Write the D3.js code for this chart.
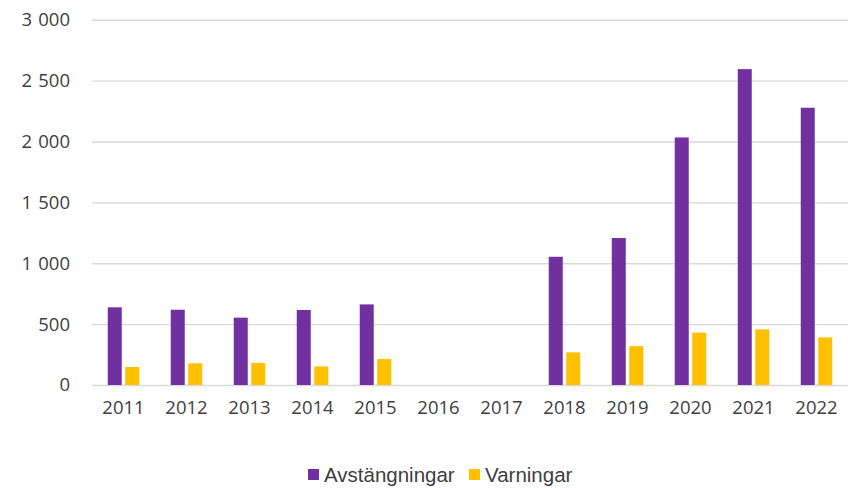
<!DOCTYPE html>
<html>
<head>
<meta charset="utf-8">
<script src="https://cdn.jsdelivr.net/npm/d3@7"></script>
<style>
body{margin:0;background:#fff;}
.tick text{font-family:"Open Sans",sans-serif;font-size:18.5px;fill:#404040;}
.legend text{font-family:"Liberation Sans",Arial,sans-serif;font-size:20.5px;fill:#404040;}
</style>
</head>
<body>
<div id="chart"></div>
<script>
let years=["2011","2012","2013","2014","2015","2016","2017","2018","2019","2020","2021","2022"];
let avstangningar=[638,618,553,616,662,null,null,1053,1207,2033,2594,2277];
let varningar=[148,178,181,153,213,null,null,268,320,430,457,391];
let seriesNames=["Avstängningar","Varningar"];
let colors=["#7030A0","#FFC000"];
let yTicks=[0,500,1000,1500,2000,2500,3000];

let width=848, height=488;
let margin={top:19.7,right:0,bottom:103,left:92};

let svg=d3.select("#chart").append("svg")
.attr("width",width)
.attr("height",height);

let x=d3.scaleBand().domain(years).range([margin.left,width-margin.right]).padding(0);
let xs=d3.scaleBand().domain(seriesNames).range([0,x.bandwidth()]).paddingInner(0.2).paddingOuter(0.9);
let y=d3.scaleLinear().domain([0,3000]).range([height-margin.bottom,margin.top]);

// thousands separated by a space, like the original
let fmt=function(d){return d3.format(",")(d).replace(/,/g,"\u2004");};

// gridlines + y labels
let yAxis=d3.axisLeft(y).tickValues(yTicks).tickFormat(fmt)
.tickSize(-(width-margin.left-margin.right)).tickPadding(22);
let gy=svg.append("g").attr("transform","translate("+margin.left+",0)").call(yAxis);
gy.select(".domain").remove();
gy.selectAll(".tick line").attr("stroke","#d9d9d9").attr("stroke-width",1.4);

// bars
let rows=years.map(function(yr,i){return {year:yr,values:[avstangningar[i],varningar[i]]};});
let groups=svg.selectAll("g.year").data(rows).enter().append("g")
.attr("class","year")
.attr("transform",function(d){return "translate("+x(d.year)+",0)";});
groups.selectAll("rect")
.data(function(d){return d.values.map(function(v,j){return {name:seriesNames[j],value:v,c:colors[j]};}).filter(function(e){return e.value!=null;});})
.enter().append("rect")
.attr("x",function(d){return xs(d.name);})
.attr("width",xs.bandwidth())
.attr("y",function(d){return y(d.value);})
.attr("height",function(d){return y(0)-y(d.value);})
.attr("fill",function(d){return d.c;});

// x labels
let xAxis=d3.axisBottom(x).tickSize(0).tickPadding(16);
let gx=svg.append("g").attr("transform","translate(0,"+y(0)+")").call(xAxis);
gx.select(".domain").remove();

// legend
let legend=svg.append("g").attr("class","legend");
let lx=[308,469];
seriesNames.forEach(function(n,i){
  legend.append("rect").attr("x",lx[i]).attr("y",469).attr("width",11).attr("height",11).attr("fill",colors[i]);
  legend.append("text").attr("x",lx[i]+16).attr("y",481.5).text(n);
});
</script>
</body>
</html>
